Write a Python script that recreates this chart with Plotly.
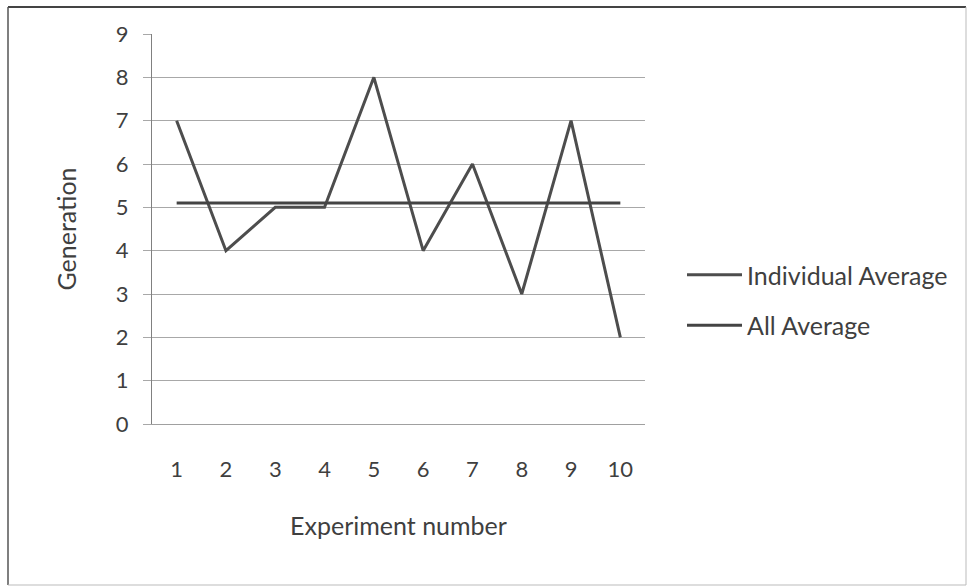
import plotly.graph_objects as go

# Data
experiments = ["1", "2", "3", "4", "5", "6", "7", "8", "9", "10"]
individual_avg = [7, 4, 5, 5, 8, 4, 6, 3, 7, 2]
all_avg = [5.1, 5.1, 5.1, 5.1, 5.1, 5.1, 5.1, 5.1, 5.1, 5.1]
y_ticks = [0, 1, 2, 3, 4, 5, 6, 7, 8, 9]

FONT = "Lato, 'Open Sans', sans-serif"
TEXT = "#3f3f3f"
W, H = 969, 587
L, R, T, B = 152, 324, 34, 163
PW, PH = W - L - R, H - T - B


def px_x(x):
    return (x - L) / PW


def px_y(y):
    return (H - B - y) / PH


fig = go.Figure()
fig.add_trace(go.Scatter(
    x=experiments, y=individual_avg, mode="lines", name="Individual Average",
    line=dict(color="#4d4d4d", width=3), legendgroup="a",
))
fig.add_trace(go.Scatter(
    x=experiments, y=all_avg, mode="lines", name="All Average",
    line=dict(color="#444444", width=3.2), legendgroup="b",
))

# outer chart frame
frame = [
    (8, 7, 966, 7, "#444444", 2),
    (8, 7, 8, 585, "#555555", 1.5),
    (966, 7, 966, 585, "#bbbbbb", 1),
    (8, 585, 966, 585, "#bbbbbb", 1),
]
shapes = [
    dict(type="line", xref="paper", yref="paper",
         x0=px_x(x0), y0=px_y(y0), x1=px_x(x1), y1=px_y(y1),
         line=dict(color=c, width=w))
    for x0, y0, x1, y1, c, w in frame
]

fig.update_layout(
    width=W, height=H,
    margin=dict(l=L, r=R, t=T, b=B, autoexpand=False),
    paper_bgcolor="white", plot_bgcolor="white",
    font=dict(family=FONT, color=TEXT, size=16),
    shapes=shapes,
    showlegend=True,
    legend=dict(
        x=px_x(682), y=px_y(252), xanchor="left", yanchor="top",
        font=dict(family=FONT, size=25, color=TEXT),
        itemwidth=55,
        tracegroupgap=15, bgcolor="rgba(0,0,0,0)",
    ),
    xaxis=dict(
        type="category", range=[-0.5, 9.5],
        showgrid=False, showline=True, linecolor="#a0a0a0", linewidth=1,
        ticks="", ticklabelstandoff=26,
        tickfont=dict(family=FONT, size=22, color=TEXT),
        title=dict(text="Experiment number", standoff=36,
                   font=dict(family=FONT, size=25, color=TEXT)),
    ),
    yaxis=dict(
        range=[0, 9], tickvals=y_ticks, ticktext=[str(v) for v in y_ticks],
        showgrid=True, gridcolor="#a8a8a8", gridwidth=1,
        showline=True, linecolor="#808080", linewidth=1.2,
        ticks="outside", ticklen=8, tickcolor="#a8a8a8",
        ticklabelstandoff=10,
        zeroline=False,
        tickfont=dict(family=FONT, size=22, color=TEXT),
        title=dict(text="Generation", standoff=31,
                   font=dict(family=FONT, size=25, color=TEXT)),
    ),
)

fig.write_html("out.html")
